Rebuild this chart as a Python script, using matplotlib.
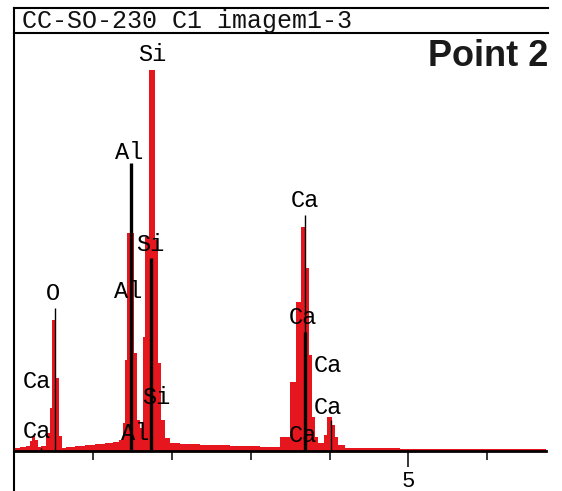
import matplotlib
matplotlib.use("Agg")
import matplotlib.pyplot as plt
from matplotlib.lines import Line2D
import numpy as np

# ---------------- data ----------------
# spectrum: step edges (keV) and counts (arbitrary units)
energy_kev = [0.000, 0.076, 0.152, 0.203, 0.228, 0.266, 0.304, 0.342, 0.406, 0.456,
              0.482, 0.532, 0.570, 0.608, 0.659, 0.773, 0.900, 1.027, 1.153, 1.255,
              1.331, 1.382, 1.407, 1.433, 1.432, 1.521, 1.559, 1.597, 1.635, 1.661,
              1.711, 1.787, 1.825, 1.863, 1.914, 1.977, 2.104, 2.358, 2.738, 3.118,
              3.372, 3.498, 3.574, 3.638, 3.662, 3.701, 3.739, 3.777, 3.815, 3.853,
              3.929, 3.967, 4.030, 4.068, 4.106, 4.195, 4.892, 6.743]
counts = [3, 4, 5, 10, 15, 11, 4, 5, 18, 43,
          131, 73, 15, 3, 4, 5, 6, 7, 8, 9,
          11, 28, 91, 218, 218, 98, 31, 23, 114, 214,
          381, 211, 88, 31, 13, 8, 7, 6, 5, 4,
          14, 69, 149, 224, 224, 183, 96, 34, 14, 8,
          16, 34, 26, 14, 6, 3, 2, 2]

# element marker lines: energy (keV), height (counts), drawn heavy or thin
marker_energy = [0.525, 0.341, 1.487, 1.740, 3.690, 3.690, 4.012]
marker_height = [143, 3, 288, 193, 236, 119, 31]
marker_heavy = [False, False, True, True, False, True, False]

# element labels: text, energy (keV), counts
label_text = ["Si", "Al", "Si", "O", "Al", "Ca", "Si", "Ca", "Al",
              "Ca", "Ca", "Ca", "Ca", "Ca"]
label_energy = [1.749, 1.458, 1.724, 0.494, 1.445, 0.292, 1.800, 0.292, 1.534,
                3.688, 3.663, 3.980, 3.980, 3.663]
label_counts = [397, 299, 207, 158, 159, 70, 53, 19, 17,
                251, 134, 85, 44, 16]

title_text = "CC-SO-230 C1 imagem1-3"
panel_text = "Point 2"
major_ticks = [5]
minor_ticks = [1, 2, 3, 4, 6]

# ---------------- figure ----------------
W, H = 562, 491
fig = plt.figure(figsize=(W / 100, H / 100), dpi=100)
fig.patch.set_facecolor("white")

x0, x1 = 14, 546
ybase, ytop = 451, 33
ax = fig.add_axes([x0 / W, (H - ybase) / H, (x1 - x0) / W, (ybase - ytop) / H])
ax.set_xlim(0, 6.743)
ax.set_ylim(0, 418)
ax.patch.set_alpha(0)

red = "#e5161e"
e = np.asarray(energy_kev)
c = np.asarray(counts)
ax.fill_between(e, c, step="post", color=red, lw=0, zorder=2)

for en, hgt, heavy in zip(marker_energy, marker_height, marker_heavy):
    ax.plot([en, en], [0, hgt], color="black", lw=2.4 if heavy else 1.0,
            solid_capstyle="butt", zorder=3)

mono = "Liberation Mono"
for t, en, cc in zip(label_text, label_energy, label_counts):
    ax.text(en, cc, t, ha="center", va="center", fontsize=17, family=mono,
            color="black", zorder=4)

for s in ["left", "right", "top"]:
    ax.spines[s].set_visible(False)
ax.spines["bottom"].set_linewidth(2.0)
ax.spines["bottom"].set_zorder(5)
ax.set_yticks([])
ax.set_xticks(major_ticks)
ax.set_xticks(minor_ticks, minor=True)
ax.tick_params(axis="x", which="major", direction="out", length=11.5, width=1.1,
               labelsize=16, pad=3)
ax.tick_params(axis="x", which="minor", direction="out", length=6.5, width=1.1)
for lab in ax.get_xticklabels():
    lab.set_family(mono)

# frame: left vertical line and title box lines
fig.add_artist(Line2D([x0 / W, x0 / W], [0, 1 - 7.5 / H], color="black", lw=1.5,
                      transform=fig.transFigure))
for yy in (7.5, 33):
    fig.add_artist(Line2D([x0 / W, 548 / W], [1 - yy / H, 1 - yy / H], color="black",
                          lw=1.5, transform=fig.transFigure))
fig.text(22 / W, 1 - 21 / H, title_text, ha="left", va="center", fontsize=18,
         family=mono, color="#111111")
fig.text(488 / W, 1 - 56 / H, panel_text, ha="center", va="center", fontsize=26,
         family="Liberation Sans", weight="bold", color="#1a1a1a")

fig.savefig("out.png", dpi=100)
